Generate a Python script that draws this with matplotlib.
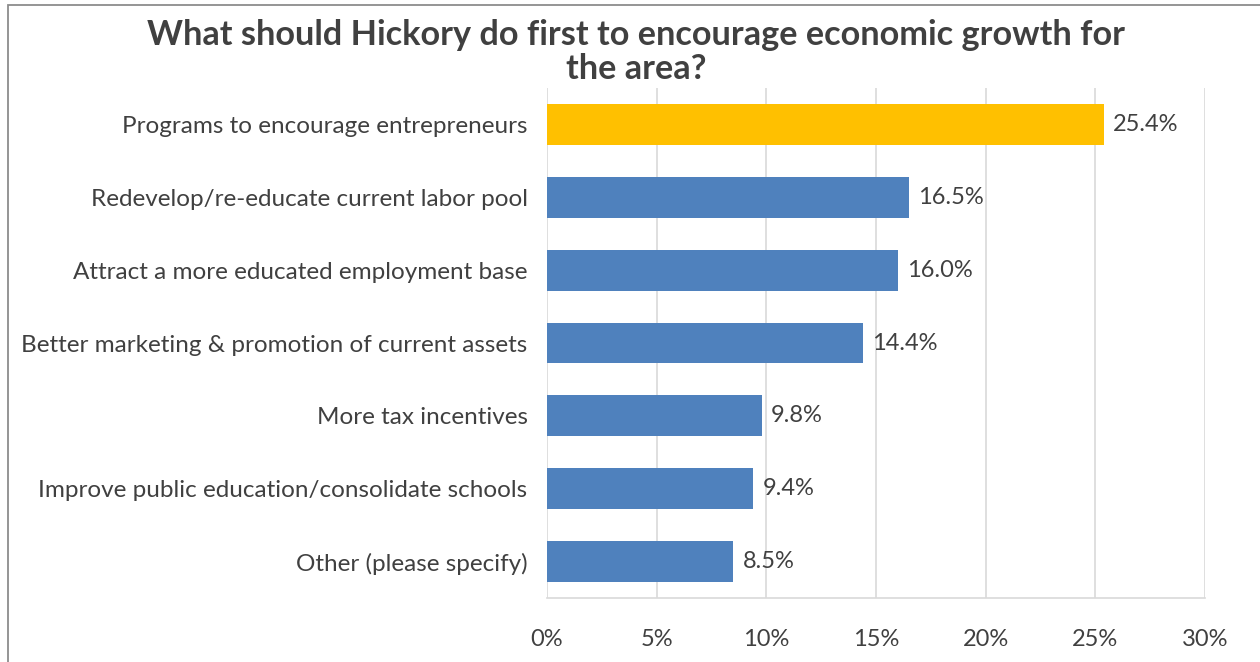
import matplotlib
matplotlib.use("Agg")
import matplotlib.pyplot as plt
from matplotlib.patches import Rectangle
from matplotlib.ticker import FuncFormatter

# survey answers, top to bottom
categories = [
    "Programs to encourage entrepreneurs",
    "Redevelop/re-educate current labor pool",
    "Attract a more educated employment base",
    "Better marketing & promotion of current assets",
    "More tax incentives",
    "Improve public education/consolidate schools",
    "Other (please specify)",
]
shares = [25.4, 16.5, 16.0, 14.4, 9.8, 9.4, 8.5]
bar_colors = ["#FFC000"] + ["#4F81BD"] * 6
x_ticks = [0, 5, 10, 15, 20, 25, 30]

title = "What should Hickory do first to encourage economic growth for\nthe area?"
text_color = "#404040"

plt.rcParams["font.family"] = ["Lato", "DejaVu Sans"]

fig = plt.figure(figsize=(12.6, 6.62), dpi=100)
ax = fig.add_axes([547 / 1260, 1 - 598 / 662, 658 / 1260, 510 / 662])

ypos = list(range(len(categories)))
ax.barh(ypos, shares, height=0.56, color=bar_colors, zorder=3)
for y, v in zip(ypos, shares):
    ax.text(v + 0.42, y, f"{v:.1f}%", va="center", ha="left",
            fontsize=17, color=text_color)

ax.set_xlim(0, 30)
ax.set_ylim(len(categories) - 0.5, -0.5)
ax.set_yticks(ypos)
ax.set_yticklabels(categories, fontsize=17.5, color=text_color)
ax.set_xticks(x_ticks)
ax.xaxis.set_major_formatter(FuncFormatter(lambda v, p: f"{v:.0f}%"))
ax.tick_params(axis="x", labelsize=17, labelcolor=text_color, length=0, pad=22)
ax.tick_params(axis="y", length=0, pad=14)

ax.grid(axis="x", color="#D9D9D9", linewidth=1.2, zorder=0)
for side in ["top", "right", "left"]:
    ax.spines[side].set_visible(False)
ax.spines["bottom"].set_color("#D9D9D9")
ax.spines["bottom"].set_linewidth(1.2)

fig.text(0.505, 1 - 52 / 662, title, ha="center", va="center",
         fontsize=24.7, fontweight="bold", color=text_color, linespacing=1.08)

# outer chart frame (cut off at right and bottom)
fig.patches.append(Rectangle((8 / 1260, -0.1), 1.2, 1 - 5 / 662 + 0.1,
                             transform=fig.transFigure, fill=False,
                             edgecolor="#8C8C8C", linewidth=1.3))

fig.savefig("out.png", dpi=100)
